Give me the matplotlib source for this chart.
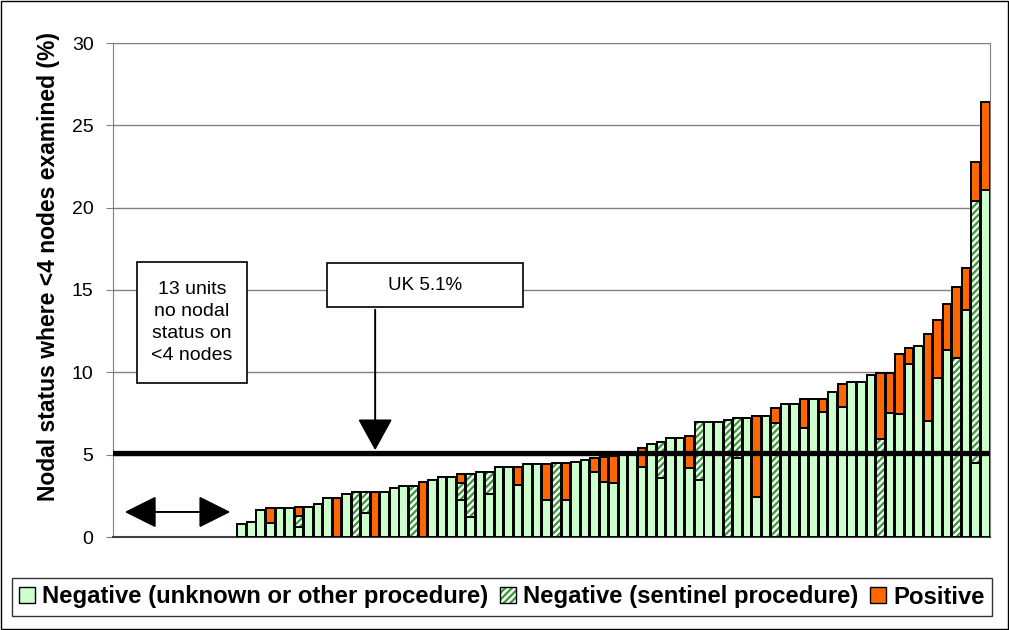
import numpy as np
import matplotlib.pyplot as plt
from matplotlib.patches import Patch, Rectangle
from matplotlib.legend_handler import HandlerTuple

plt.rcParams['font.family'] = ['Liberation Sans', 'DejaVu Sans']
plt.rcParams['hatch.linewidth'] = 1.6

# units with no nodal status on <4 nodes (no bars)
n_empty = 13

# per-unit values (%), sorted by total
neg_other = [0.77, 0.91, 1.64, 0.83, 1.74, 1.74, 0.63, 1.84, 2.0, 2.35,
             0, 2.6, 0, 1.44, 0, 2.73, 2.96, 3.1, 0, 0,
             3.46, 3.66, 3.66, 2.25, 1.23, 3.96, 2.6, 4.27, 4.27, 3.16,
             4.41, 4.41, 2.25, 0, 2.25, 4.55, 4.68, 3.96, 3.33, 3.3,
             4.98, 5.0, 4.27, 5.65, 3.56, 5.99, 5.99, 4.17, 3.46, 6.98,
             6.98, 0, 4.78, 7.2, 2.45, 7.35, 0, 8.07, 8.07, 6.6,
             8.4, 7.57, 8.82, 7.91, 9.41, 9.41, 9.84, 0, 7.55, 7.45,
             10.48, 11.6, 7.06, 9.63, 11.35, 0, 13.78, 4.51, 21.07]
neg_sentinel = [0, 0, 0, 0, 0, 0, 0.62, 0, 0, 0,
                0, 0, 2.75, 1.29, 0, 0, 0, 0, 3.1, 0,
                0, 0, 0, 1.05, 2.6, 0, 1.36, 0, 0, 0,
                0, 0, 0, 4.51, 0, 0, 0, 0, 0, 0,
                0, 0, 0, 0, 2.21, 0, 0, 0, 3.52, 0,
                0, 7.1, 2.42, 0, 0, 0, 6.9, 0, 0, 0,
                0, 0, 0, 0, 0, 0, 0, 5.93, 0, 0,
                0, 0, 0, 0, 0, 10.85, 0, 15.91, 0]
positive = [0, 0, 0, 0.91, 0, 0, 0.6, 0, 0, 0,
            2.35, 0, 0, 0, 2.73, 0, 0, 0, 0, 3.32,
            0, 0, 0, 0.53, 0, 0, 0, 0, 0, 1.11,
            0, 0, 2.16, 0, 2.26, 0, 0, 0.82, 1.55, 1.6,
            0, 0, 1.11, 0, 0, 0, 0, 1.96, 0, 0,
            0, 0, 0, 0, 4.9, 0, 0.95, 0, 0, 1.8,
            0, 0.83, 0, 1.38, 0, 0, 0, 4.05, 2.43, 3.64,
            0.97, 0, 5.25, 3.55, 2.78, 4.35, 2.53, 2.37, 5.32]

uk_rate = 5.1

green = '#CCFFCC'
orange = '#FF6600'
hatch_green = '#339933'

neg_other = np.array(neg_other)
neg_sentinel = np.array(neg_sentinel)
positive = np.array(positive)
x = np.arange(len(neg_other)) + n_empty
n_total = n_empty + len(neg_other)

fig = plt.figure(figsize=(10.09, 6.3), dpi=100)
ax = fig.add_axes([113/1009, 93/630, 877/1009, 494/630])

width = 0.9
lw = 1.4

m = neg_other > 0
ax.bar(x[m], neg_other[m], width, color=green, edgecolor='black', linewidth=lw, zorder=3)

m = neg_sentinel > 0
ax.bar(x[m], neg_sentinel[m], width, bottom=neg_other[m], color='white',
       edgecolor=hatch_green, hatch='/////', linewidth=0, zorder=3)
ax.bar(x[m], neg_sentinel[m], width, bottom=neg_other[m], fill=False,
       edgecolor='black', linewidth=lw, zorder=3)

m = positive > 0
ax.bar(x[m], positive[m], width, bottom=(neg_other + neg_sentinel)[m], color=orange,
       edgecolor='black', linewidth=lw, zorder=3)

# UK average line
ax.axhline(uk_rate, color='black', linewidth=3.8, zorder=4)

ax.set_xlim(-0.5, n_total - 0.5)
ax.set_ylim(0, 30)
ax.set_yticks(np.arange(0, 31, 5))
ax.set_xticks([])
ax.yaxis.grid(True, color='#808080', linewidth=1)
ax.set_axisbelow(True)
for s in ['left', 'right', 'top']:
  ax.spines[s].set_color('#808080')
ax.spines['bottom'].set_color('#404040')
ax.spines['bottom'].set_linewidth(1.5)
ax.tick_params(axis='y', labelsize=14, length=5, color='#808080', pad=9)

ax.set_ylabel('Nodal status where <4 nodes examined (%)', fontsize=16.5, fontweight='bold')
ax.yaxis.set_label_coords(-0.061, 0.547)

# annotation boxes
ax.add_patch(Rectangle((21.95, 13.97), 20.55, 2.67, facecolor='white', edgecolor='black',
                       linewidth=1.2, zorder=5))
ax.text(32.2, 15.3, 'UK 5.1%', ha='center', va='center', fontsize=13.5, zorder=6)
ax.add_patch(Rectangle((2.0, 9.35), 11.56, 7.35, facecolor='white', edgecolor='black',
                       linewidth=1.2, zorder=5))
ax.text(7.78, 13.02, '13 units\nno nodal\nstatus on\n<4 nodes', ha='center', va='center',
        fontsize=14, linespacing=1.4, zorder=6)

ax.annotate('', xy=(27.0, uk_rate), xytext=(27.0, 13.97),
            arrowprops=dict(arrowstyle='-|>,head_length=1.0,head_width=0.55',
                            color='black', linewidth=1.4, mutation_scale=20), zorder=5)
ax.annotate('', xy=(12.1, 1.52), xytext=(0.44, 1.52),
            arrowprops=dict(arrowstyle='<|-|>,head_length=1.0,head_width=0.5',
                            color='black', linewidth=1.4, mutation_scale=20), zorder=5)

h1 = Patch(facecolor=green, edgecolor='black', linewidth=1)
h2a = Patch(facecolor='white', edgecolor=hatch_green, hatch='/////', linewidth=0)
h2b = Patch(fill=False, edgecolor='black', linewidth=1)
h3 = Patch(facecolor=orange, edgecolor='black', linewidth=1)
leg = fig.legend([h1, (h2a, h2b), h3],
                 ['Negative (unknown or other procedure)', 'Negative (sentinel procedure)', 'Positive'],
                 handler_map={tuple: HandlerTuple(ndivide=1, pad=0)},
                 loc='center', bbox_to_anchor=(502/1009, 1 - 597/630), ncol=3,
                 prop={'weight': 'bold', 'size': 17.2}, handlelength=0.65, handleheight=0.65,
                 handletextpad=0.3, columnspacing=0.5, borderpad=0.3,
                 frameon=True, fancybox=False, edgecolor='black')
leg.get_frame().set_linewidth(1)

fig.patches.append(Rectangle((0.001, 0.001), 0.998, 0.997, transform=fig.transFigure,
                             fill=False, edgecolor='black', linewidth=1))

fig.savefig('out.png', dpi=100)
